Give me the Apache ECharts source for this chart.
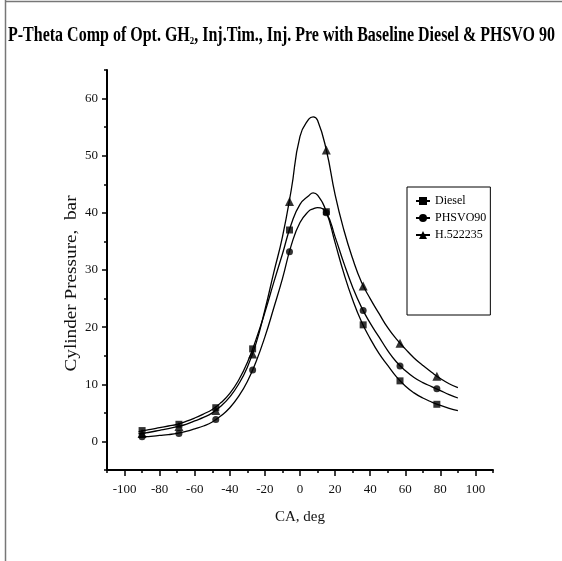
<!DOCTYPE html>
<html><head><meta charset="utf-8">
<script src="https://cdn.jsdelivr.net/npm/echarts@6/dist/echarts.min.js"></script>
<style>html,body{margin:0;padding:0;background:#fff;overflow:hidden}#c{width:562px;height:561px}</style>
</head><body><div id="c"></div>
<script>
// ---- data ----
const seriesNames = ['Diesel', 'PHSVO90', 'H.522235'];
const curveX = [-92, -90, -85, -80, -75, -70, -65, -60, -55, -50, -45, -40, -35, -30, -25, -20, -15, -10, -5, 0, 5, 7.5, 10, 15, 20, 25, 30, 35, 40, 45, 50, 55, 60, 65, 70, 75, 80, 85, 90];
const dieselCurve = [1.7, 1.85, 2.1, 2.4, 2.7, 3.0, 3.5, 4.1, 4.8, 5.6, 6.8, 8.4, 10.7, 13.8, 17.9, 22.6, 27.8, 32.8, 38.0, 41.5, 43.0, 43.5, 43.1, 40.2, 34.8, 29.4, 24.8, 21.0, 18.0, 15.4, 13.3, 11.3, 9.7, 8.5, 7.6, 6.9, 6.3, 5.8, 5.4];
const phsvoCurve = [0.75, 0.8, 0.9, 1.05, 1.2, 1.4, 1.75, 2.2, 2.7, 3.4, 4.5, 5.9, 7.9, 10.5, 14.0, 18.3, 23.3, 28.5, 34.3, 38.3, 40.3, 40.7, 40.9, 40.0, 35.8, 31.2, 27.0, 23.5, 20.7, 18.3, 15.9, 13.9, 12.4, 11.2, 10.3, 9.6, 8.9, 8.2, 7.6];
const hCurve = [1.3, 1.4, 1.65, 1.95, 2.25, 2.6, 3.0, 3.6, 4.2, 5.0, 6.2, 7.8, 10.0, 13.0, 17.2, 23.0, 29.5, 35.8, 44.0, 53.4, 56.4, 56.8, 56.2, 51.0, 43.2, 37.0, 32.0, 27.9, 25.0, 22.4, 19.9, 17.9, 16.2, 14.6, 13.3, 12.1, 11.0, 10.1, 9.4];
const markerX = [-90, -69, -48, -27, -6, 15, 36, 57, 78];
const dieselPts = [1.9, 3.0, 5.9, 16.2, 37.0, 40.2, 20.4, 10.6, 6.5];
const phsvoPts = [0.8, 1.4, 3.85, 12.5, 33.2, 40.0, 22.9, 13.2, 9.2];
const hPts = [1.4, 2.6, 5.4, 15.3, 42.0, 51.0, 27.2, 17.2, 11.4];
const xTickLabels = [-100, -80, -60, -40, -20, 0, 20, 40, 60, 80, 100];
const xMinorTicks = [-110, -90, -70, -50, -30, -10, 10, 30, 50, 70, 90, 110];
const yTickLabels = [0, 10, 20, 30, 40, 50, 60];
const yMinorTicks = [-5, 5, 15, 25, 35, 45, 55, 65];
const titleMain = 'P-Theta Comp of Opt. GH';
const titleSub = '2';
const titleRest = ', Inj.Tim., Inj. Pre with Baseline Diesel & PHSVO 90';
const xName = 'CA, deg';
const yName = 'Cylinder Pressure,  bar';

// ---- chart ----
const FONT = 'Liberation Serif';
const chart = echarts.init(document.getElementById('c'), null, {renderer: 'canvas'});
const pair = (xs, ys) => xs.map((x, i) => [x, ys[i]]);
const symbols = ['rect', 'circle', 'triangle'];
const symSizes = [7, 7, 9];
const curves = [dieselCurve, phsvoCurve, hCurve];
const pts = [dieselPts, phsvoPts, hPts];

const series = [];
seriesNames.forEach((n, k) => {
  series.push({
    type: 'line', name: n, data: pair(curveX, curves[k]),
    smooth: 0.5, showSymbol: false,
    symbol: symbols[k], symbolSize: symSizes[k],
    lineStyle: {color: '#000', width: 1.3}, itemStyle: {color: '#000'},
    silent: true, z: 2
  });
});
[2, 1, 0].forEach(k => {
  series.push({
    type: 'scatter', name: seriesNames[k], data: pair(markerX, pts[k]),
    symbol: symbols[k], symbolSize: symSizes[k],
    itemStyle: {color: '#000'}, silent: true, z: 3
  });
});

const axisLbl = {fontFamily: FONT, fontSize: 13, color: '#111'};
chart.setOption({
  animation: false,
  backgroundColor: '#fff',
  grid: {left: 107, right: 69, top: 70, bottom: 91, containLabel: false},
  xAxis: [{
    type: 'value', min: -110, max: 110,
    axisLine: {show: true, onZero: false, lineStyle: {color: '#000', width: 2}},
    axisTick: {show: true, length: 6, lineStyle: {color: '#000', width: 1.5}, customValues: xTickLabels},
    axisLabel: Object.assign({margin: 13, customValues: xTickLabels}, axisLbl),
    splitLine: {show: false},
    name: xName, nameLocation: 'middle', nameGap: 40,
    nameTextStyle: {fontFamily: FONT, fontSize: 15, color: '#111'}
  }, {
    type: 'value', min: -110, max: 110, position: 'bottom',
    axisLine: {show: false, onZero: false},
    axisTick: {show: true, length: 3, lineStyle: {color: '#000', width: 1.5}, customValues: xMinorTicks},
    axisLabel: {show: false}, splitLine: {show: false}
  }],
  yAxis: [{
    type: 'value', min: -5, max: 65,
    axisLine: {show: true, onZero: false, lineStyle: {color: '#000', width: 2}},
    axisTick: {show: true, length: 5, lineStyle: {color: '#000', width: 1.5}, customValues: yTickLabels},
    axisLabel: Object.assign({margin: 9, customValues: yTickLabels}, axisLbl),
    splitLine: {show: false}
  }, {
    type: 'value', min: -5, max: 65, position: 'left',
    axisLine: {show: false, onZero: false},
    axisTick: {show: true, length: 3, lineStyle: {color: '#000', width: 1.5}, customValues: yMinorTicks},
    axisLabel: {show: false}, splitLine: {show: false}
  }],
  legend: {
    data: seriesNames, orient: 'vertical', left: 407, top: 187,
    itemWidth: 14, itemHeight: 10, itemGap: 5,
    padding: [8, 4, 74, 8],
    borderColor: '#000', borderWidth: 1, backgroundColor: '#fff',
    selectedMode: false,
    lineStyle: {width: 2},
    textStyle: {fontFamily: FONT, fontSize: 12, color: '#000'}
  },
  graphic: [
    {type: 'line', shape: {x1: 5.5, y1: 0, x2: 5.5, y2: 561}, style: {stroke: '#777', lineWidth: 1.5}, silent: true},
    {type: 'line', shape: {x1: 5, y1: 1.5, x2: 562, y2: 1.5}, style: {stroke: '#777', lineWidth: 1.5}, silent: true},
    {
      type: 'text', x: 8, y: 25, scaleX: 0.8, silent: true,
      style: {
        text: '{a|' + titleMain + '}{s|' + titleSub + '}{a|' + titleRest + '}',
        rich: {
          a: {fontFamily: FONT, fontWeight: 'bold', fontSize: 20, lineHeight: 22, fill: '#000'},
          s: {fontFamily: FONT, fontWeight: 'bold', fontSize: 11, lineHeight: 22, verticalAlign: 'bottom', fill: '#000'}
        }
      }
    },
    {
      type: 'text', x: 72, y: 283.5, rotation: Math.PI / 2, scaleX: 1.13, silent: true,
      style: {text: yName, fontFamily: FONT, fontSize: 17, fill: '#111', align: 'center', verticalAlign: 'middle'}
    }
  ],
  series: series
});
</script></body></html>
